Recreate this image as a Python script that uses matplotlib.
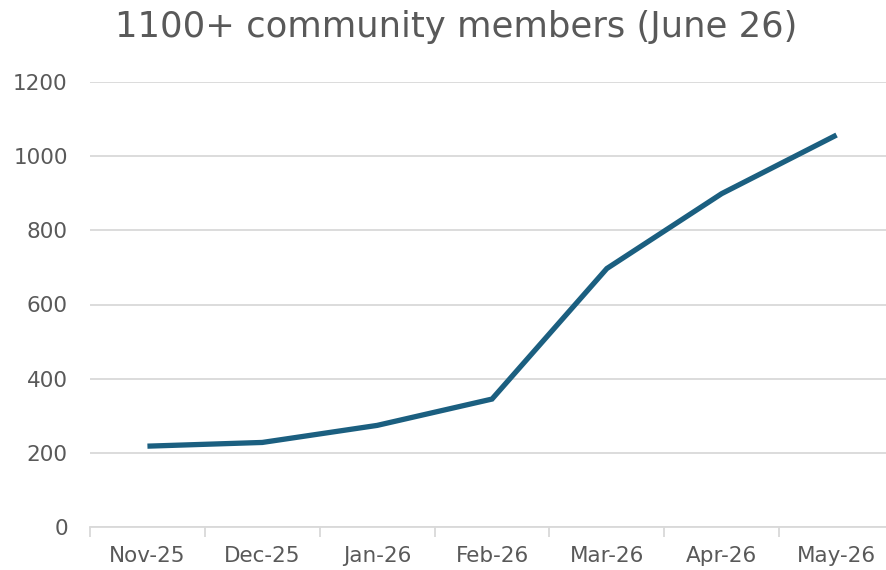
import numpy as np
import matplotlib.pyplot as plt
from matplotlib.ticker import FixedLocator

months = ['Nov-25', 'Dec-25', 'Jan-26', 'Feb-26', 'Mar-26', 'Apr-26', 'May-26']
members = [218, 228, 274, 345, 697, 899, 1057]
y_ticks = [0, 200, 400, 600, 800, 1000, 1200]

plt.rcParams['font.family'] = ['DejaVu Sans']
grey = '#595959'
grid_col = '#d9d9d9'

fig = plt.figure(figsize=(8.86, 5.70), dpi=100)
# plot area runs slightly past the right edge of the image, as in the original
ax = fig.add_axes([90 / 886, 43 / 570, 804 / 886, 445 / 570])

x = np.arange(len(months))
ax.plot(x, members, color='#1b5f80', lw=3.8, solid_joinstyle='miter', solid_capstyle='butt')

# Y axis
ax.set_ylim(0, 1200)
ax.set_yticks(y_ticks)
ax.set_yticklabels([str(v) for v in y_ticks], fontsize=15.5, color=grey)
ax.grid(axis='y', color=grid_col, lw=1.3)
ax.tick_params(axis='y', length=0, pad=16)

# X axis - categories centred between tick marks
ax.set_xlim(-0.5, len(months) - 0.5)
ax.set_xticks(x)
ax.set_xticklabels(months, fontsize=15.5, color=grey)
ax.xaxis.set_minor_locator(FixedLocator(np.arange(-0.5, len(months), 1.0)))
ax.tick_params(axis='x', which='major', length=0, pad=14)
ax.tick_params(axis='x', which='minor', length=7, width=1.3, color=grid_col)

for s in ['top', 'right', 'left']:
    ax.spines[s].set_visible(False)
ax.spines['bottom'].set_color(grid_col)
ax.spines['bottom'].set_linewidth(1.3)
ax.set_axisbelow(True)

fig.text(0.515, 0.952, '1100+ community members (June 26)', ha='center', va='center',
         fontsize=25.5, color=grey)

fig.savefig('out.png', dpi=100)
